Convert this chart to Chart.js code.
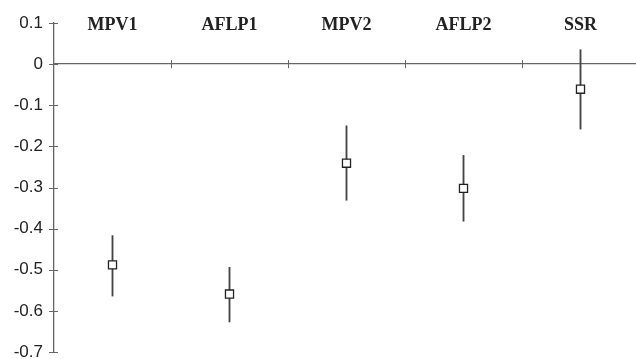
<!DOCTYPE html>
<html>
<head>
<meta charset="utf-8">
<script src="https://cdn.jsdelivr.net/npm/chart.js@4.4.1/dist/chart.umd.min.js"></script>
<style>
  html, body { margin: 0; padding: 0; background: #fff; overflow: hidden; }
  #wrap { width: 646px; height: 359px; position: relative; }
  canvas { display: block; }
</style>
</head>
<body>
<div id="wrap"><canvas id="chart"></canvas></div>
<script>
// values
const categories = ['MPV1', 'AFLP1', 'MPV2', 'AFLP2', 'SSR'];
const means = [-0.488, -0.559, -0.241, -0.302, -0.061];
const lower = [-0.564, -0.627, -0.331, -0.382, -0.158];
const upper = [-0.417, -0.494, -0.150, -0.222, 0.035];
const yTicks = [0.1, 0, -0.1, -0.2, -0.3, -0.4, -0.5, -0.6, -0.7];

const axisColor = '#666';
const inkColor = '#222';

function noPadding(scale) {
  scale.paddingLeft = 0;
  scale.paddingRight = 0;
  scale.paddingTop = 0;
  scale.paddingBottom = 0;
}

// small ticks that cross the axis lines, plus category names above the zero line
const axisDecor = {
  id: 'axisDecor',
  afterDraw(chart) {
    const { ctx, chartArea, scales: { x, y } } = chart;
    const y0 = y.getPixelForValue(0);
    const half = (x.getPixelForValue(1) - x.getPixelForValue(0)) / 2;
    ctx.save();
    ctx.strokeStyle = axisColor;
    ctx.lineWidth = 1;
    ctx.beginPath();
    categories.forEach((c, i) => {
      const px = Math.round(x.getPixelForValue(i) + half) + 0.5;
      ctx.moveTo(px, y0 - 4);
      ctx.lineTo(px, y0 + 4);
    });
    yTicks.forEach(v => {
      const py = Math.round(y.getPixelForValue(v)) + 0.5;
      ctx.moveTo(chartArea.left - 5, py);
      ctx.lineTo(chartArea.left + 4, py);
    });
    ctx.stroke();

    ctx.fillStyle = inkColor;
    ctx.font = 'bold 18px "Liberation Serif", "Times New Roman", serif';
    ctx.textAlign = 'center';
    ctx.textBaseline = 'alphabetic';
    categories.forEach((c, i) => {
      ctx.fillText(c, x.getPixelForValue(i), chartArea.top + 7);
    });
    ctx.restore();
  }
};

new Chart(document.getElementById('chart'), {
  data: {
    labels: categories,
    datasets: [
      {
        type: 'line',
        label: 'mean',
        data: means,
        showLine: false,
        pointStyle: 'rect',
        pointRadius: 5.7,
        pointBackgroundColor: '#fff',
        pointBorderColor: inkColor,
        pointBorderWidth: 1.3,
        order: 0
      },
      {
        type: 'bar',
        label: 'range',
        data: categories.map((c, i) => [lower[i], upper[i]]),
        backgroundColor: '#444',
        borderWidth: 0,
        barThickness: 1.2,
        order: 1
      }
    ]
  },
  options: {
    responsive: true,
    maintainAspectRatio: false,
    animation: false,
    events: [],
    layout: { padding: { top: 23, bottom: 4, left: 0, right: 0 } },
    plugins: {
      legend: { display: false },
      tooltip: { enabled: false }
    },
    scales: {
      x: {
        type: 'category',
        position: { y: 0 },
        offset: true,
        afterFit: noPadding,
        grid: { display: false, drawTicks: false },
        border: { display: true, color: axisColor, width: 1.3 },
        ticks: { display: false }
      },
      y: {
        min: -0.7,
        max: 0.1,
        afterBuildTicks: scale => { scale.ticks = yTicks.map(v => ({ value: v })); },
        afterFit: scale => { scale.width = 54; noPadding(scale); },
        grid: { display: false, drawTicks: false },
        border: { display: true, color: axisColor, width: 1.3 },
        ticks: {
          padding: 11,
          color: inkColor,
          font: { family: '"Liberation Sans", Arial, sans-serif', size: 17, lineHeight: 0.7 },
          callback: v => String(Math.round(v * 10) / 10)
        }
      }
    }
  },
  plugins: [axisDecor]
});
</script>
</body>
</html>
